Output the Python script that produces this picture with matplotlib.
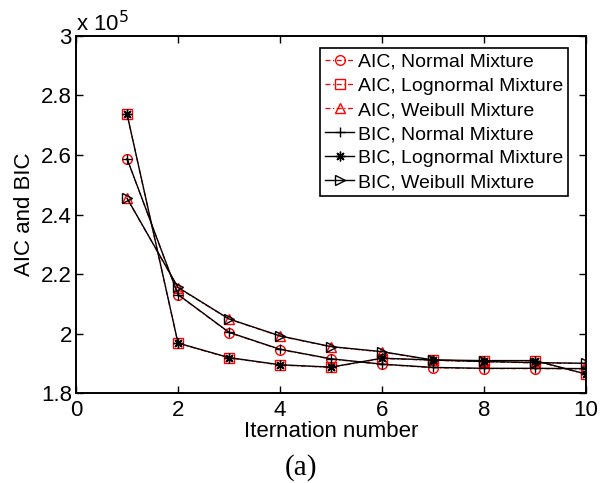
import numpy as np
import matplotlib
matplotlib.use('Agg')
import matplotlib.pyplot as plt

plt.rcParams['font.family'] = ['Liberation Sans', 'DejaVu Sans']

# iteration numbers and criterion values (x 10^5)
iters = [1, 2, 3, 4, 5, 6, 7, 8, 9, 10]
aic_normal = [2.587, 2.130, 2.003, 1.946, 1.914, 1.896, 1.885, 1.882, 1.882, 1.881]
aic_lognormal = [2.737, 1.967, 1.918, 1.894, 1.886, 1.916, 1.910, 1.908, 1.908, 1.863]
aic_weibull = [2.454, 2.154, 2.048, 1.991, 1.955, 1.938, 1.910, 1.905, 1.901, 1.899]
bic_normal = [2.588, 2.131, 2.004, 1.947, 1.915, 1.897, 1.886, 1.883, 1.883, 1.882]
bic_lognormal = [2.738, 1.968, 1.919, 1.895, 1.887, 1.917, 1.911, 1.909, 1.909, 1.864]
bic_weibull = [2.455, 2.155, 2.049, 1.992, 1.956, 1.939, 1.911, 1.906, 1.902, 1.900]
labels = ['AIC, Normal Mixture', 'AIC, Lognormal Mixture', 'AIC, Weibull Mixture',
          'BIC, Normal Mixture', 'BIC, Lognormal Mixture', 'BIC, Weibull Mixture']

fig = plt.figure(figsize=(6.01, 4.83), dpi=100)
ax = fig.add_axes([0.1265, 0.1863, 0.8485, 0.7392])

ms = 7
red = dict(color='red', linestyle=(0, (4, 2, 1, 2)), linewidth=0.9, markersize=ms,
           markerfacecolor='none')
ax.plot(iters, aic_normal, marker='o', label=labels[0], **red)
ax.plot(iters, aic_lognormal, marker='s', label=labels[1], **red)
ax.plot(iters, aic_weibull, marker='^', label=labels[2], **red)
blk = dict(color='black', linestyle='-', linewidth=1.0, markersize=ms, markerfacecolor='none')
ax.plot(iters, bic_normal, marker='+', label=labels[3], **blk)
ax.plot(iters, bic_lognormal, marker=(8, 2, 0), label=labels[4], **blk)
ax.plot(iters, bic_weibull, marker='>', label=labels[5], **blk)

ax.set_xlim(0, 10)
ax.set_ylim(1.8, 3.0)
ax.set_xticks([0, 2, 4, 6, 8, 10])
ax.set_yticks([1.8, 2.0, 2.2, 2.4, 2.6, 2.8, 3.0])
ax.set_yticklabels(['1.8', '2', '2.2', '2.4', '2.6', '2.8', '3'])
ax.tick_params(direction='in', top=True, right=True, labelsize=16, length=5, width=1)
ax.tick_params(axis='x', pad=5)
ax.tick_params(axis='y', pad=3)
for s in ax.spines.values():
    s.set_linewidth(1.4)

ax.set_xlabel('Iternation number', fontsize=16, labelpad=0)
ax.set_ylabel('AIC and BIC', fontsize=16, labelpad=4)
ax.text(0.0, 1.0, r'x 10$^5$', transform=ax.transAxes, fontsize=16,
        ha='left', va='bottom')

leg = ax.legend(loc='upper right', fontsize=14, labelspacing=0.33, handlelength=1.5,
                handletextpad=0.2, borderpad=0.25, borderaxespad=0, fancybox=False,
                edgecolor='black', framealpha=1, bbox_to_anchor=(0.965, 0.965))
leg.get_frame().set_linewidth(1.2)

fig.text(0.5, 0.033, '(a)', fontsize=21, ha='center', va='center',
         family=['Liberation Serif', 'DejaVu Serif'])

fig.savefig('out.png', dpi=100)
